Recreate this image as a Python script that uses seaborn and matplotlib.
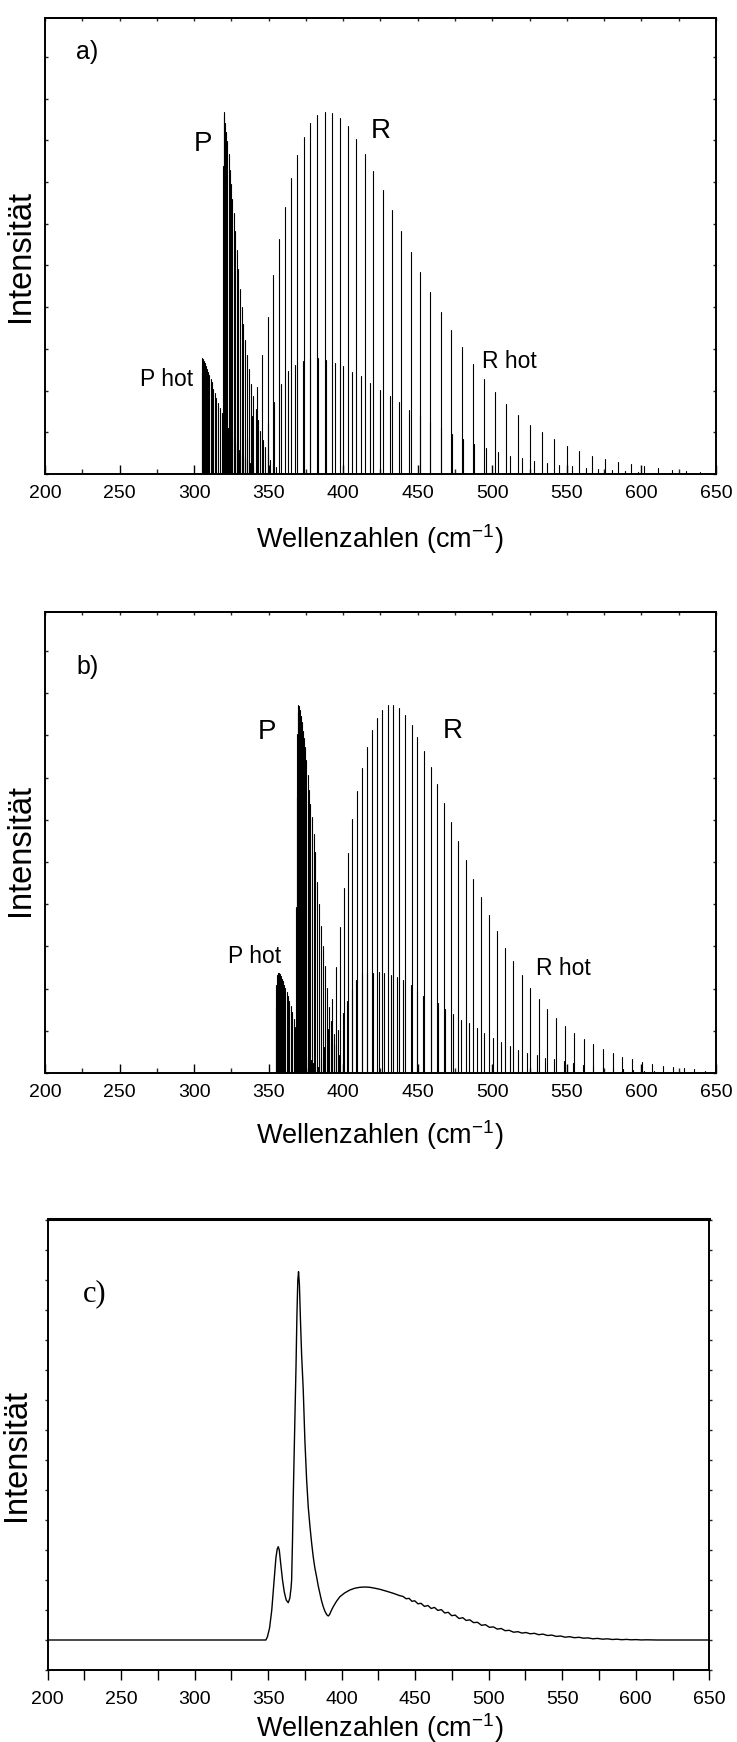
import numpy as np
import pandas as pd
import matplotlib
matplotlib.use("Agg")
import matplotlib.pyplot as plt
import seaborn as sns
from matplotlib.ticker import MultipleLocator

# ---------------- data ----------------
x_ticks = [200, 250, 300, 350, 400, 450, 500, 550, 600, 650]

# panel a) stick spectrum (wavenumber, relative intensity in %)
a_P_pos = [319.4, 319.8, 320.3, 320.9, 321.6, 322.3, 323.1, 323.9, 324.8, 325.7, 326.6, 327.6,
           328.6, 329.7, 330.8, 331.9, 333.1, 334.3, 335.6, 336.9, 338.3, 339.7, 341.2, 342.7,
           344.3, 345.9, 347.6, 349.3, 351.1, 352.9, 354.8]
a_P_int = [85, 100, 99, 97, 94.5, 92, 88.5, 84, 80, 76, 72, 67, 62, 56.5, 51, 46, 41.5, 37, 33,
           29, 25, 21.5, 18, 15, 12, 9.5, 7.5, 5.5, 4, 3, 2]
a_Phot_pos = [305.0, 305.4, 305.9, 306.5, 307.1, 307.8, 308.5, 309.3, 310.1, 311.0, 311.9, 312.9,
              313.9, 315.0, 316.1, 317.3, 318.5, 319.8, 321.1, 322.5, 324.0, 325.5, 327.1, 328.7,
              330.4, 332.1, 333.9, 335.7, 337.6, 339.5]
a_Phot_int = [28, 32, 31.8, 31.2, 30.6, 29.8, 29.0, 28.3, 27.3, 26.2, 25.5, 23.5, 22.3, 21.0, 19.6,
              18.2, 16.8, 15.3, 14, 12.6, 11.2, 10, 8.8, 7.6, 6.5, 5.5, 4.6, 3.8, 3, 2.3]
a_R_pos = [332.5, 335.6, 338.8, 342.2, 345.8, 349.5, 353.1, 357.2, 361.2, 364.9, 368.9, 373.4,
           377.9, 382.4, 387.8, 392.8, 397.7, 403.4, 408.5, 414.6, 420.3, 426.4, 432.4, 438.7,
           445.3, 451.8, 458.3, 465.3, 472.5, 479.5, 486.9, 494.3, 501.6, 509.5, 517.0, 525.2,
           533.3, 541.6, 549.8, 558.3, 566.9, 575.4, 584.3, 593.2, 602.0, 611.2, 620.5, 629.7,
           639.6, 648.9]
a_R_int = [5, 10, 16, 24, 33, 43.5, 55, 64.8, 73.8, 81.7, 88.1, 93.2, 96.9, 99.2, 100, 99.7, 98.3,
           96.0, 92.5, 88.5, 83.8, 78.5, 72.9, 67.2, 61.4, 55.7, 50.2, 44.8, 39.7, 35.0, 30.5, 26.3,
           22.7, 19.2, 16.2, 13.5, 11.5, 9.7, 7.8, 6.4, 5.1, 4.2, 3.3, 2.7, 2.1, 1.6, 1.1, 0.8,
           0.5, 0.4]
a_Rhot_pos = [349.5, 353.8, 358.3, 363.0, 367.8, 372.8, 378.0, 383.3, 388.7, 394.3, 399.7, 405.8,
              411.9, 418.0, 424.5, 431.1, 437.6, 444.3, 451.3, 458.3, 465.5, 473.0, 480.2, 488.0,
              495.7, 503.6, 511.9, 519.8, 527.9, 536.5, 544.8, 553.2, 562.6, 571.1, 580.2, 589.1,
              598.0, 607.0]
a_Rhot_int = [14, 20, 25, 28.5, 30.2, 31.3, 32.0, 32.0, 31.4, 30.7, 29.7, 28.3, 27.0, 25.1, 23.3,
              21.6, 19.8, 17.8, 16.1, 14.5, 12.7, 11.1, 9.7, 8.3, 7.2, 6.2, 5.1, 4.4, 3.7, 3.1,
              2.6, 2.1, 1.6, 1.3, 1.0, 0.7, 0.5, 0.4]

# panel b) stick spectrum
b_P_pos = [368.2, 368.7, 369.2, 369.6, 370.0, 370.5, 371.0, 371.6, 372.2, 372.9, 373.6, 374.4,
           375.2, 376.1, 377.0, 378.0, 379.0, 380.1, 381.2, 382.4, 383.6, 384.9, 386.2, 387.6,
           389.0, 390.5, 392.0, 393.6, 395.2, 396.9]
b_P_int = [45, 75, 92, 98, 100, 99.8, 98.7, 97, 95.5, 93, 91, 88.7, 85, 81, 77, 73, 69.7, 65, 60,
           52, 46, 40, 34.4, 29, 23, 18, 14, 10.5, 7.5, 5]
b_Phot_pos = [354.6, 355.0, 355.5, 356.0, 356.5, 357.1, 357.7, 358.3, 359.0, 359.7, 360.4, 361.2,
              362.0, 362.9, 363.8, 364.7, 365.7, 366.7, 367.8, 368.9, 370.1, 371.3, 372.6, 373.9,
              375.3, 376.7, 378.2, 379.7, 381.3, 382.9]
b_Phot_int = [18, 24, 26.5, 27.2, 27.3, 27.2, 26.8, 26.3, 25.5, 24.9, 23.8, 23.0, 22.0, 20.8,
              19.5, 18.3, 16.5, 14.8, 12.5, 11, 9.5, 8.2, 7, 6, 5, 4.2, 3.4, 2.7, 2.1, 1.6]
b_R_pos = [384.9, 387.3, 389.8, 392.4, 395.2, 397.9, 400.5, 403.0, 405.7, 409.3, 412.4, 415.8,
           419.1, 422.9, 426.2, 430.0, 433.6, 437.4, 441.7, 445.9, 449.7, 454.0, 458.7, 463.1,
           467.8, 472.5, 477.2, 482.4, 487.1, 492.4, 497.8, 503.2, 508.5, 513.9, 519.9, 525.3,
           531.1, 536.9, 542.9, 548.9, 555.0, 561.5, 567.5, 574.0, 580.7, 587.2, 593.7, 600.2,
           607.3, 614.3, 621.4, 628.4, 635.3, 642.7]
b_R_int = [4, 7, 12, 20, 28.9, 39.8, 50.3, 59.8, 68.9, 76.5, 82.9, 88.7, 93.3, 96.5, 98.7, 100,
           100, 99.1, 97.3, 94.6, 91.4, 87.6, 83.2, 78.5, 73.5, 68.2, 63.0, 58.0, 52.7, 47.7,
           42.9, 38.6, 34.1, 30.3, 26.5, 23.2, 20.1, 17.4, 15.0, 12.8, 10.9, 9.2, 7.8, 6.4, 5.3,
           4.4, 3.7, 2.9, 2.4, 2.0, 1.6, 1.3, 1.0, 0.6]
b_Rhot_pos = [393.5, 396.7, 399.7, 402.4, 405.7, 408.6, 412.4, 416.2, 420.2, 423.8, 427.6, 431.9,
              435.9, 440.3, 445.3, 449.3, 453.7, 458.7, 463.4, 468.3, 473.9, 478.8, 484.2, 489.5,
              494.6, 500.5, 506.0, 511.9, 517.4, 523.5, 529.8, 535.6, 541.4, 547.9, 554.3, 561.0,
              567.5, 574.0, 580.7, 587.5, 594.5, 601.5, 608.5]
b_Rhot_int = [8, 11.8, 16.4, 19.5, 22.7, 25.4, 27.2, 27.3, 27.3, 27.4, 27.3, 26.7, 26.2, 25.2,
              23.8, 22.3, 21.0, 19.9, 18.9, 17.4, 16.0, 14.4, 13.5, 12.2, 10.8, 9.4, 8.5, 7.3,
              6.2, 5.5, 4.9, 4.2, 3.7, 3.2, 2.6, 2.2, 1.9, 1.6, 1.3, 1.0, 0.8, 0.6, 0.5]

# panel c) convolved spectrum (wavenumber, intensity in arbitrary units)
c_x = [200, 348.5, 349.5, 351, 352.5, 354, 355.3, 356.2, 356.9, 357.6, 358.6, 359.8, 361, 362.3,
       363.7, 364.8, 365.6, 366, 366.6, 367.1, 367.7, 368.3, 369, 369.6, 370.2, 370.7, 371.3,
       372, 372.8, 373.9, 375, 376.2, 377.3, 378.5, 379.6, 380.7, 381.8, 383, 384.1, 385.2,
       386.3, 387.5, 388.7, 389.9, 390.9, 391.8, 393, 394.3, 396.5, 398.8, 402, 405.6, 409,
       412.4, 416, 419.2, 422.5, 426, 430.5, 435.1, 439.6,
       441.7, 443.8, 445.9, 447.8, 449.7, 451.9, 454.0, 456.3, 458.7, 460.9, 463.1, 465.4,
       467.8, 470.1, 472.5, 474.8, 477.2, 479.8, 482.4, 484.7, 487.1, 489.7, 492.4, 495.1,
       497.8, 500.5, 503.2, 505.8, 508.5, 511.2, 513.9, 516.9, 519.9, 522.6, 525.3, 528.2,
       531.1, 534.0, 536.9, 539.9, 542.9, 545.9, 548.9, 552.0, 555.0, 558.3, 561.5, 564.5,
       567.5, 570.8, 574.0, 577.4, 580.7, 584.0, 587.2, 590.5, 593.7, 597.0, 600.2, 603.7,
       607.3, 615, 650]
c_y = [0, 0, 3, 12, 30, 58, 82, 91, 93.3, 90, 76, 60, 48, 40, 37.3, 42, 52, 60, 100, 143, 185,
       227, 275, 325, 360, 368.3, 355, 320, 285, 250, 200, 160, 133, 113, 97, 83, 72, 63, 54,
       46.7, 39.5, 33.3, 28.5, 25.3, 24, 25.5, 29.5, 33.3, 38.7, 43.3, 47, 50, 51.8, 52.7, 53,
       52.7, 51.8, 50.7, 48.8, 46.7, 44.3,
       43.6, 41.3, 41.6, 38.7, 39.2, 36.2, 36.7, 33.6, 34.5, 31.5, 32.6, 29.6,
       30.4, 27.0, 27.7, 24.3, 24.9, 21.5, 22.3, 19.5, 20.2, 17.4, 17.7, 14.7,
       15.3, 12.7, 13.1, 10.9, 11.5, 9.3, 9.7, 7.8, 8.3, 6.9, 7.5, 6.2,
       6.7, 5.3, 5.9, 4.5, 4.9, 3.6, 4.0, 2.8, 3.3, 2.3, 2.7, 1.8,
       2.1, 1.2, 1.6, 0.8, 1.2, 0.5, 0.8, 0.3, 0.6, 0.2, 0.4, 0.05,
       0.2, 0, 0]

# ---------------- figure ----------------
sns.set_theme(style="ticks")
plt.rcParams["font.family"] = ["Liberation Sans", "DejaVu Sans"]
plt.rcParams["mathtext.default"] = "regular"

W, H = 737, 1742
fig = plt.figure(figsize=(W / 100, H / 100), dpi=100)
fig.patch.set_facecolor("white")


def px_axes(left, top, right, bottom):
    return fig.add_axes([left / W, 1 - bottom / H, (right - left) / W, (bottom - top) / H])


def ftext(x, y, s, **kw):
    fig.text(x / W, 1 - y / H, s, ha="center", va="center", color="black", **kw)


def sticks(groups):
    rows, uid = [], 0
    for pos, ints in groups:
        for p, v in zip(pos, ints):
            rows.append((uid, p, 0.0))
            rows.append((uid, p, v))
            uid += 1
    return pd.DataFrame(rows, columns=["line", "x", "y"])


def style_stick_axes(ax, ytop, ystep):
    ax.set_xlim(200, 650)
    ax.set_ylim(0, ytop)
    ax.set_xticks(x_ticks)
    ax.xaxis.set_minor_locator(MultipleLocator(25))
    ax.yaxis.set_major_locator(MultipleLocator(ystep))
    ax.tick_params(axis="x", which="major", direction="in", length=6.5, width=1.0,
                   labelsize=14, pad=8, top=False, colors="black")
    ax.tick_params(axis="x", which="minor", direction="in", length=3.6, width=1.0, top=False)
    ax.tick_params(axis="y", which="major", direction="in", length=2.5, width=1.0,
                   left=True, right=True, labelleft=False)
    for s in ax.spines.values():
        s.set_linewidth(1.4)
        s.set_color("black")
        s.set_visible(True)
    sec = ax.secondary_xaxis("top")
    sec.xaxis.set_major_locator(MultipleLocator(25))
    sec.tick_params(axis="x", direction="in", length=2.2, width=1.0, labeltop=False)
    sec.spines["top"].set_linewidth(1.4)
    ax.set_xlabel("")
    ax.set_ylabel("")


xlabel = "Wellenzahlen (cm$^{-1}$)"

# ---- panel a ----
ax_a = px_axes(45, 18, 716, 474)
df_a = sticks([(a_Phot_pos, a_Phot_int), (a_Rhot_pos, a_Rhot_int),
               (a_R_pos, a_R_int), (a_P_pos, a_P_int)])
sns.lineplot(data=df_a, x="x", y="y", units="line", estimator=None, sort=False,
             color="black", linewidth=0.8, ax=ax_a, legend=False)
style_stick_axes(ax_a, 125.97, 11.52)
ftext(87, 52, "a)", fontsize=18)
ftext(203, 144, "P", fontsize=20)
ftext(381, 131, "R", fontsize=20)
ftext(167, 379, "P hot", fontsize=16.5)
ftext(509, 361, "R hot", fontsize=16.5)
ftext(21, 256, "Intensität", fontsize=23.5, rotation=90)
ftext(380, 539, xlabel, fontsize=19.5)

# ---- panel b ----
ax_b = px_axes(45, 612, 716, 1073)
df_b = sticks([(b_Phot_pos, b_Phot_int), (b_Rhot_pos, b_Rhot_int),
               (b_R_pos, b_R_int), (b_P_pos, b_P_int)])
sns.lineplot(data=df_b, x="x", y="y", units="line", estimator=None, sort=False,
             color="black", linewidth=0.8, ax=ax_b, legend=False)
style_stick_axes(ax_b, 125.27, 11.47)
ftext(88, 667, "b)", fontsize=18)
ftext(267, 732, "P", fontsize=20)
ftext(453, 731, "R", fontsize=20)
ftext(255, 956, "P hot", fontsize=16.5)
ftext(563, 968, "R hot", fontsize=16.5)
ftext(21, 850, "Intensität", fontsize=23.5, rotation=90)
ftext(380, 1135, xlabel, fontsize=19.5)

# ---- panel c ----
ax_c = px_axes(47.5, 1219, 709.3, 1670)
df_c = pd.DataFrame({"x": c_x, "y": c_y})
sns.lineplot(data=df_c, x="x", y="y", sort=False, estimator=None,
             color="black", linewidth=1.0, ax=ax_c, legend=False)
ax_c.set_xlim(200, 650)
ax_c.set_ylim(-30, 421)
ax_c.set_xticks(x_ticks)
ax_c.xaxis.set_minor_locator(MultipleLocator(25))
ax_c.yaxis.set_major_locator(MultipleLocator(30))
ax_c.tick_params(axis="x", which="both", direction="out", length=7, width=1.0,
                 labelsize=14, pad=8, top=False, colors="black")
ax_c.tick_params(axis="y", which="major", direction="out", length=2.5, width=1.0,
                 left=True, right=True, labelleft=False)
for s in ax_c.spines.values():
    s.set_linewidth(1.4)
    s.set_color("black")
    s.set_visible(True)
ax_c.spines["top"].set_linewidth(2.2)
ax_c.set_xlabel("")
ax_c.set_ylabel("")
ftext(95, 1294, "c)", fontsize=22, family=["Liberation Serif", "DejaVu Serif"])
ftext(17, 1455, "Intensität", fontsize=23.5, rotation=90)
ftext(380, 1728, xlabel, fontsize=19.5)

fig.savefig("out.png", dpi=100, facecolor="white")
